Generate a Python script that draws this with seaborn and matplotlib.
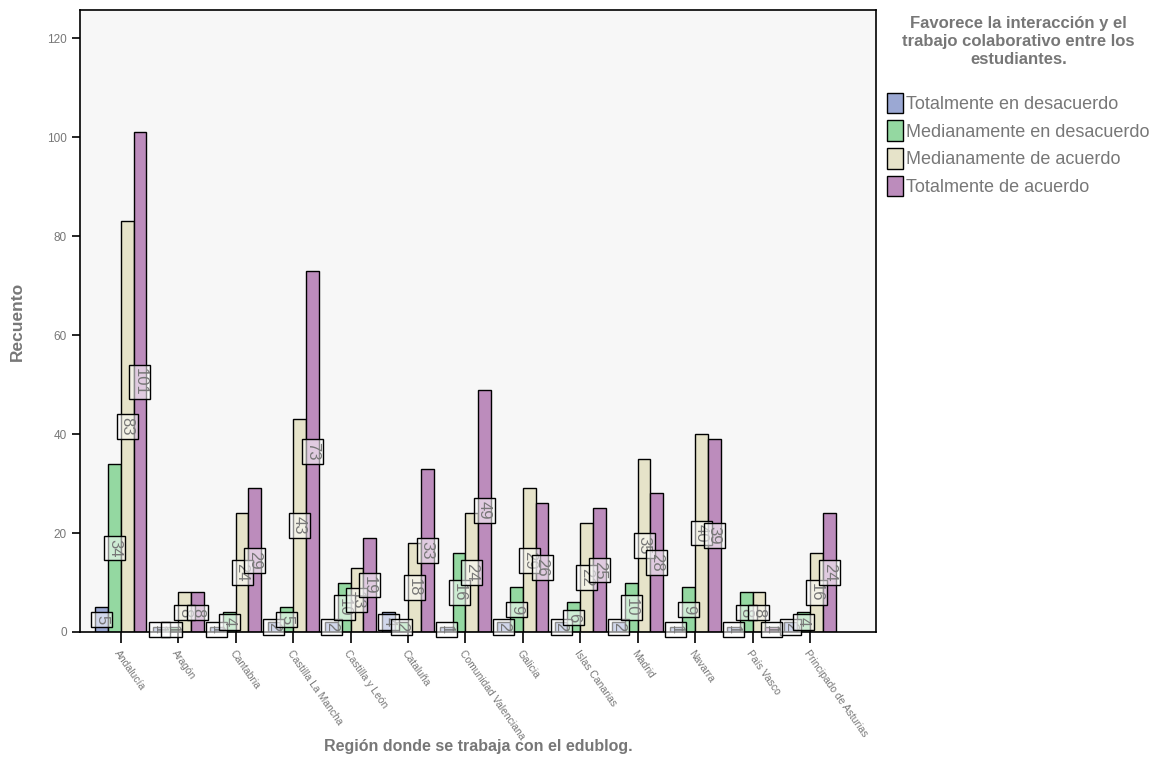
import pandas as pd
import matplotlib.pyplot as plt
import seaborn as sns

regiones = [
    "Andalucía", "Aragón", "Cantabria", "Castilla La Mancha", "Castilla y León",
    "Cataluña", "Comunidad Valenciana", "Galicia", "Islas Canarias", "Madrid",
    "Navarra", "País Vasco", "Principado de Asturias",
]
respuestas = [
    "Totalmente en desacuerdo",
    "Medianamente en desacuerdo",
    "Medianamente de acuerdo",
    "Totalmente de acuerdo",
]
totalmente_desacuerdo = [5, 1, 1, 2, 2, 4, 1, 2, 2, 2, 1, 1, 2]
medianamente_desacuerdo = [34, 1, 4, 5, 10, 2, 16, 9, 6, 10, 9, 8, 4]
medianamente_acuerdo = [83, 8, 24, 43, 13, 18, 24, 29, 22, 35, 40, 8, 16]
totalmente_acuerdo = [101, 8, 29, 73, 19, 33, 49, 26, 25, 28, 39, 1, 24]

colores = ["#9BA8D3", "#94D8A1", "#E6E3C9", "#BC8CBC"]
gris = "#777777"

series = [totalmente_desacuerdo, medianamente_desacuerdo,
          medianamente_acuerdo, totalmente_acuerdo]
rows = []
for resp, vals in zip(respuestas, series):
    for reg, v in zip(regiones, vals):
        rows.append({"Región": reg, "Respuesta": resp, "Recuento": v})
df = pd.DataFrame(rows)

sns.set_style("white")
plt.rcParams["font.family"] = ["Liberation Sans", "DejaVu Sans"]

fig = plt.figure(figsize=(11.53, 7.63), dpi=100)
ax = fig.add_axes([0.0694, 0.1717, 0.6904, 0.8152])
ax.set_facecolor("#F7F7F7")

sns.barplot(
    data=df, x="Región", y="Recuento", hue="Respuesta",
    order=regiones, hue_order=respuestas, palette=colores,
    width=0.89, edgecolor="black", linewidth=1, saturation=1, ax=ax,
)

for cont in ax.containers:
    ax.bar_label(
        cont, label_type="center", rotation=-90, fontsize=12, color=gris,
        bbox=dict(boxstyle="square,pad=0.18", fc=(1, 1, 1, 0.55),
                  ec="black", lw=1),
    )

ax.set_xlim(-0.71, 13.15)
ax.set_ylim(0, 125.7)
ax.set_yticks(range(0, 121, 20))
ax.tick_params(axis="y", labelsize=8.5, labelcolor=gris, length=6,
               width=1.2, color="black", direction="out", left=True)
ax.tick_params(axis="x", length=8, width=1.2, color="black",
               direction="out", bottom=True)
ax.set_xticks(range(len(regiones)))
ax.set_xticklabels(regiones, rotation=-55, ha="left", va="top",
                   rotation_mode="anchor", fontsize=7.5, color=gris)
for s in ax.spines.values():
    s.set_color("black")
    s.set_linewidth(1.2)

ax.set_ylabel("Recuento", fontsize=12.5, fontweight="bold", color=gris,
              labelpad=16)
ax.set_xlabel("Región donde se trabaja con el edublog.", fontsize=11.5,
              fontweight="bold", color=gris)
ax.xaxis.set_label_coords(0.5, -0.172)

handles, labels = ax.get_legend_handles_labels()
leg = ax.legend(
    handles, labels,
    title="Favorece la interacción y el\ntrabajo colaborativo entre los\nestudiantes.\n",
    loc="upper left", bbox_to_anchor=(1.005, 1.002), frameon=False,
    fontsize=13, handlelength=0.85, handleheight=1.35, handletextpad=0.2,
    labelspacing=0.42, borderaxespad=0,
    title_fontproperties={"weight": "bold", "size": 12},
)
leg.get_title().set_color(gris)
leg.get_title().set_multialignment("center")
leg.get_title().set_linespacing(1.25)
for t in leg.get_texts():
    t.set_color(gris)

fig.savefig("out.png", dpi=100)
